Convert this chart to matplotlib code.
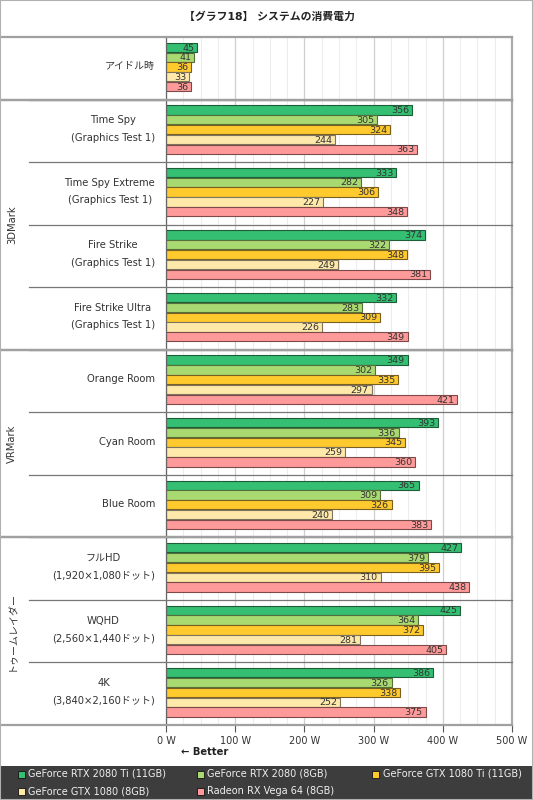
import matplotlib
matplotlib.use("Agg")
import matplotlib.pyplot as plt
from matplotlib.patches import Rectangle
from matplotlib.lines import Line2D
from matplotlib.transforms import blended_transform_factory
import numpy as np

plt.rcParams['font.family'] = ['DejaVu Sans', 'Noto Sans CJK JP']

TITLE = "【グラフ18】 システムの消費電力"

# -----------------------------
# data
# -----------------------------
tests = [
    "アイドル時",
    "Time Spy\n(Graphics Test 1)",
    "Time Spy Extreme\n(Graphics Test 1)",
    "Fire Strike\n(Graphics Test 1)",
    "Fire Strike Ultra\n(Graphics Test 1)",
    "Orange Room",
    "Cyan Room",
    "Blue Room",
    "フルHD\n(1,920×1,080ドット)",
    "WQHD\n(2,560×1,440ドット)",
    "4K\n(3,840×2,160ドット)",
]
groups = [("", 0, 1), ("3DMark", 1, 5), ("VRMark", 5, 8), ("トゥームレイダー", 8, 11)]

cards = [
    "GeForce RTX 2080 Ti (11GB)",
    "GeForce RTX 2080 (8GB)",
    "GeForce GTX 1080 Ti (11GB)",
    "GeForce GTX 1080 (8GB)",
    "Radeon RX Vega 64 (8GB)",
]
rtx2080ti = [45, 356, 333, 374, 332, 349, 393, 365, 427, 425, 386]
rtx2080 = [41, 305, 282, 322, 283, 302, 336, 309, 379, 364, 326]
gtx1080ti = [36, 324, 306, 348, 309, 335, 345, 326, 395, 372, 338]
gtx1080 = [33, 244, 227, 249, 226, 297, 259, 240, 310, 281, 252]
vega64 = [36, 363, 348, 381, 349, 421, 360, 383, 438, 405, 375]
series = [rtx2080ti, rtx2080, gtx1080ti, gtx1080, vega64]

x_ticks = [0, 100, 200, 300, 400, 500]
x_tick_labels = [f"{t} W" for t in x_ticks]

colors = ["#34bf72", "#a9d971", "#ffca2e", "#ffe9aa", "#ff9a9a"]
edges = ["#1d5e39", "#55703a", "#7a6020", "#7d7560", "#7d4a4a"]

W, H = 533, 800


def fx(x):
    return x / W


def fy(y):
    return 1 - y / H


fig = plt.figure(figsize=(W / 100, H / 100), dpi=100)
fig.patch.set_facecolor("white")

PL, PR, PT, PB = 166, 512, 37, 725
ax = fig.add_axes([fx(PL), fy(PB), fx(PR) - fx(PL), fy(PT) - fy(PB)])

n = len(tests)
step = 0.157
height = 0.148
for j, vals in enumerate(series):
    ys = np.arange(n) + 0.48 + (j - 2) * step
    ax.barh(ys, vals, height=height, color=colors[j], edgecolor=edges[j],
            linewidth=0.8, zorder=3)
    for yy, v in zip(ys, vals):
        ax.text(v - 4, yy + 0.01, str(v), ha="right", va="center",
                fontsize=6.8, color="#333333", zorder=4)

ax.set_xlim(0, 500)
ax.set_ylim(n, 0)
ax.set_yticks([])
ax.set_xticks(x_ticks)
ax.set_xticklabels(x_tick_labels, fontsize=7, color="#333333")
ax.set_xticks(np.arange(0, 501, 25), minor=True)
ax.tick_params(axis="x", which="major", length=5, color="#555555", pad=3)
ax.tick_params(axis="x", which="minor", length=0)
ax.grid(axis="x", which="major", color="#cfcfcf", lw=0.9, zorder=0)
ax.grid(axis="x", which="minor", color="#ededed", lw=0.8, zorder=0)

for side in ["top", "bottom", "right"]:
    ax.spines[side].set_visible(False)
ax.spines["left"].set_color("#666666")
ax.spines["left"].set_linewidth(0.9)
ax.spines["left"].set_zorder(5)
ax.axvline(500, color="#aaaaaa", lw=1.6, zorder=5, clip_on=False)

# section lines and labels on the left
trans = blended_transform_factory(fig.transFigure, ax.transData)
for i, lab in enumerate(tests):
    ax.text(fx(155), i + 0.5 - 0.03, lab, transform=trans, ha="right",
            va="center", multialignment="center", fontsize=7.2,
            color="#333333", linespacing=1.95)
    if i > 0:
        ax.add_line(Line2D([fx(29), fx(PR)], [i, i], transform=trans,
                           color="#777777", lw=0.9, clip_on=False, zorder=6))

for name, start, end in groups:
    for b in (start, end):
        ax.add_line(Line2D([0, fx(PR)], [b, b], transform=trans,
                           color="#a0a0a0", lw=1.6, clip_on=False, zorder=7))
    if name:
        ax.text(fx(12), (start + end) / 2, name, transform=trans, rotation=90,
                ha="center", va="center", fontsize=7.2, color="#333333")

fig.text(fx(269), fy(17), TITLE, ha="center", va="center", fontsize=7.8,
         fontweight="bold", color="#222222")
fig.text(fx(181), fy(752), "← Better", ha="left", va="center", fontsize=7.2,
         fontweight="bold", color="#222222")

# legend strip
fig.patches.append(Rectangle((0, 0), 1, fy(766), transform=fig.transFigure,
                             facecolor="#3d3d3d", edgecolor="none", zorder=1))
leg_pos = [(21, 774), (200, 774), (376, 774), (21, 791), (200, 791)]
for (lx, ly), name, c, e in zip(leg_pos, cards, colors, edges):
    fig.patches.append(Rectangle((fx(lx - 3.5), fy(ly + 3.5)), 7 / W, 7 / H,
                                 transform=fig.transFigure, facecolor=c,
                                 edgecolor="#111111", lw=0.6, zorder=2))
    fig.text(fx(lx + 7), fy(ly), name, ha="left", va="center", fontsize=7,
             color="#f0f0f0", zorder=3)

# outer frame
fig.patches.append(Rectangle((0, 0), 1, 1, transform=fig.transFigure,
                             facecolor="none", edgecolor="#b0b0b0", lw=1.5,
                             zorder=10))

fig.savefig("out.png", dpi=100)
